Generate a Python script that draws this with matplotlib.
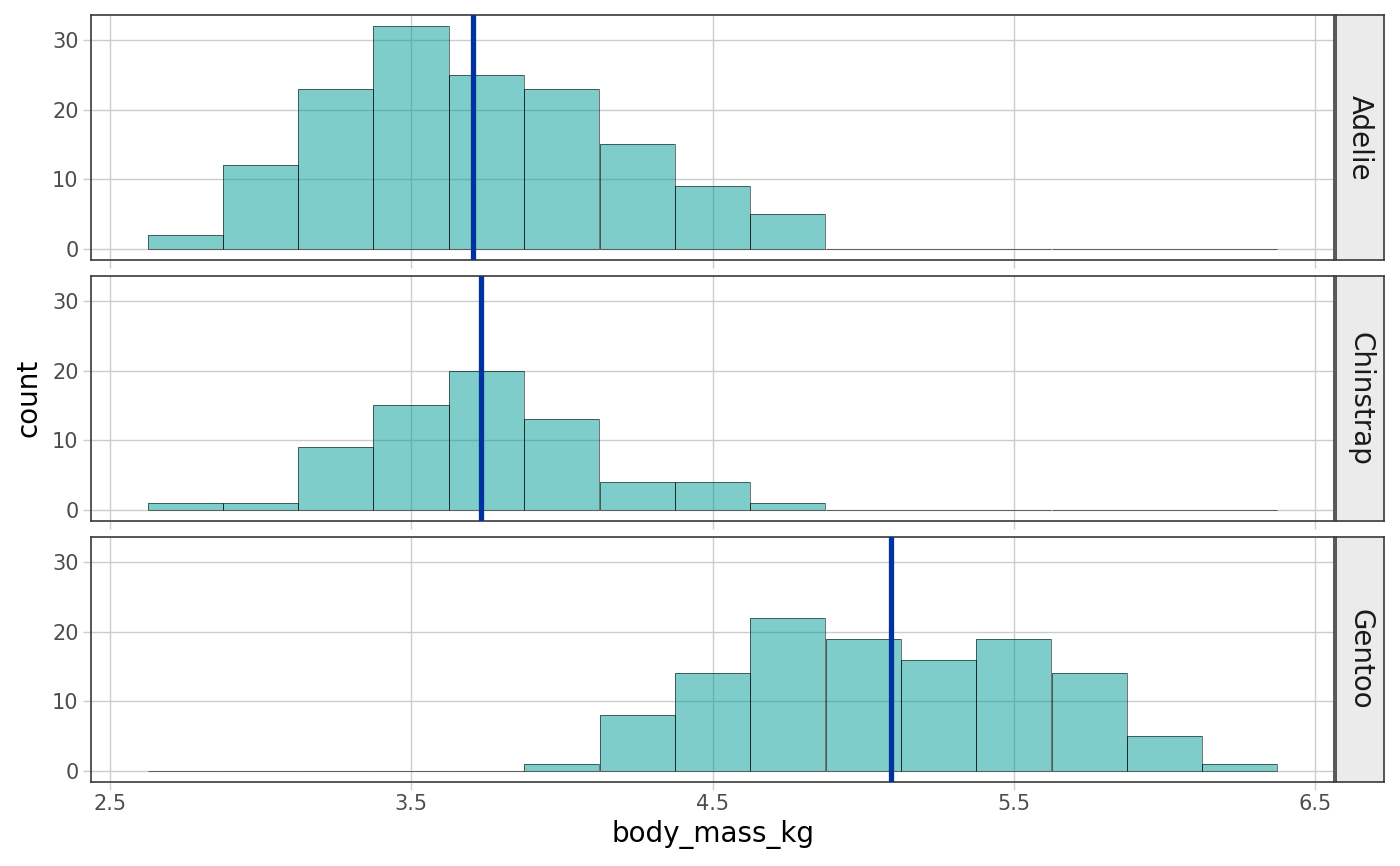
import numpy as np
import matplotlib.pyplot as plt

# histogram bins (binwidth 0.25) and counts per species
bin_edges = [2.625, 2.875, 3.125, 3.375, 3.625, 3.875, 4.125, 4.375,
             4.625, 4.875, 5.125, 5.375, 5.625, 5.875, 6.125, 6.375]
species = ['Adelie', 'Chinstrap', 'Gentoo']
adelie_counts = [2, 12, 23, 32, 25, 23, 15, 9, 5, 0, 0, 0, 0, 0, 0]
chinstrap_counts = [1, 1, 9, 15, 20, 13, 4, 4, 1, 0, 0, 0, 0, 0, 0]
gentoo_counts = [0, 0, 0, 0, 0, 1, 8, 14, 22, 19, 16, 19, 14, 5, 1]
mean_mass = [3.706, 3.733, 5.092]

x_ticks = [2.5, 3.5, 4.5, 5.5, 6.5]
y_ticks = [0, 10, 20, 30]

W, H = 1400, 866
fig = plt.figure(figsize=(W / 100, H / 100), dpi=100)

panel_left, panel_right = 91, 1334
strip_left, strip_right = 1336, 1384
panel_tops = [15, 276, 537]
panel_h = 245

grid_col = '#CCCCCC'
border_col = '#3A3A3A'
text_col = '#4D4D4D'

edges = np.array(bin_edges)
all_counts = [adelie_counts, chinstrap_counts, gentoo_counts]

for i, (name, counts, mu) in enumerate(zip(species, all_counts, mean_mass)):
    top = panel_tops[i]
    ax = fig.add_axes([panel_left / W, 1 - (top + panel_h) / H,
                       (panel_right - panel_left) / W, panel_h / H])
    ax.set_axisbelow(True)
    ax.grid(True, color=grid_col, linewidth=1.0)
    ax.bar(edges[:-1], counts, width=np.diff(edges), align='edge',
           color='#009C96', alpha=0.5, edgecolor='none', zorder=2)
    ax.bar(edges[:-1], counts, width=np.diff(edges), align='edge',
           fill=False, edgecolor=(0, 0, 0, 0.55), linewidth=0.7, zorder=3)
    ax.axvline(mu, color='#0033A0', linewidth=3.8, zorder=4)

    ax.set_xlim(2.4375, 6.5625)
    ax.set_ylim(-1.6, 33.6)
    ax.set_xticks(x_ticks)
    ax.set_yticks(y_ticks)
    ax.tick_params(colors=grid_col, labelcolor=text_col, labelsize=15,
                   length=6, width=1, pad=3)
    if i < 2:
        ax.tick_params(axis='x', labelbottom=False)
    else:
        ax.set_xticklabels([str(v) for v in x_ticks])
        ax.set_xlabel('body_mass_kg', fontsize=20, color='black', labelpad=4)
    for sp in ax.spines.values():
        sp.set_color(border_col)
        sp.set_linewidth(1.2)

    sax = fig.add_axes([strip_left / W, 1 - (top + panel_h) / H,
                        (strip_right - strip_left) / W, panel_h / H])
    sax.set_facecolor('#EBEBEB')
    sax.set_xticks([])
    sax.set_yticks([])
    for sp in sax.spines.values():
        sp.set_color(border_col)
        sp.set_linewidth(1.2)
    sax.text(0.5, 0.5, name, rotation=-90, ha='center', va='center',
             fontsize=20, color='#1A1A1A', transform=sax.transAxes)

fig.text(28 / W, 1 - 398 / H, 'count', rotation=90, ha='center',
         va='center', fontsize=20, color='black')

fig.savefig('out.png', dpi=100)
